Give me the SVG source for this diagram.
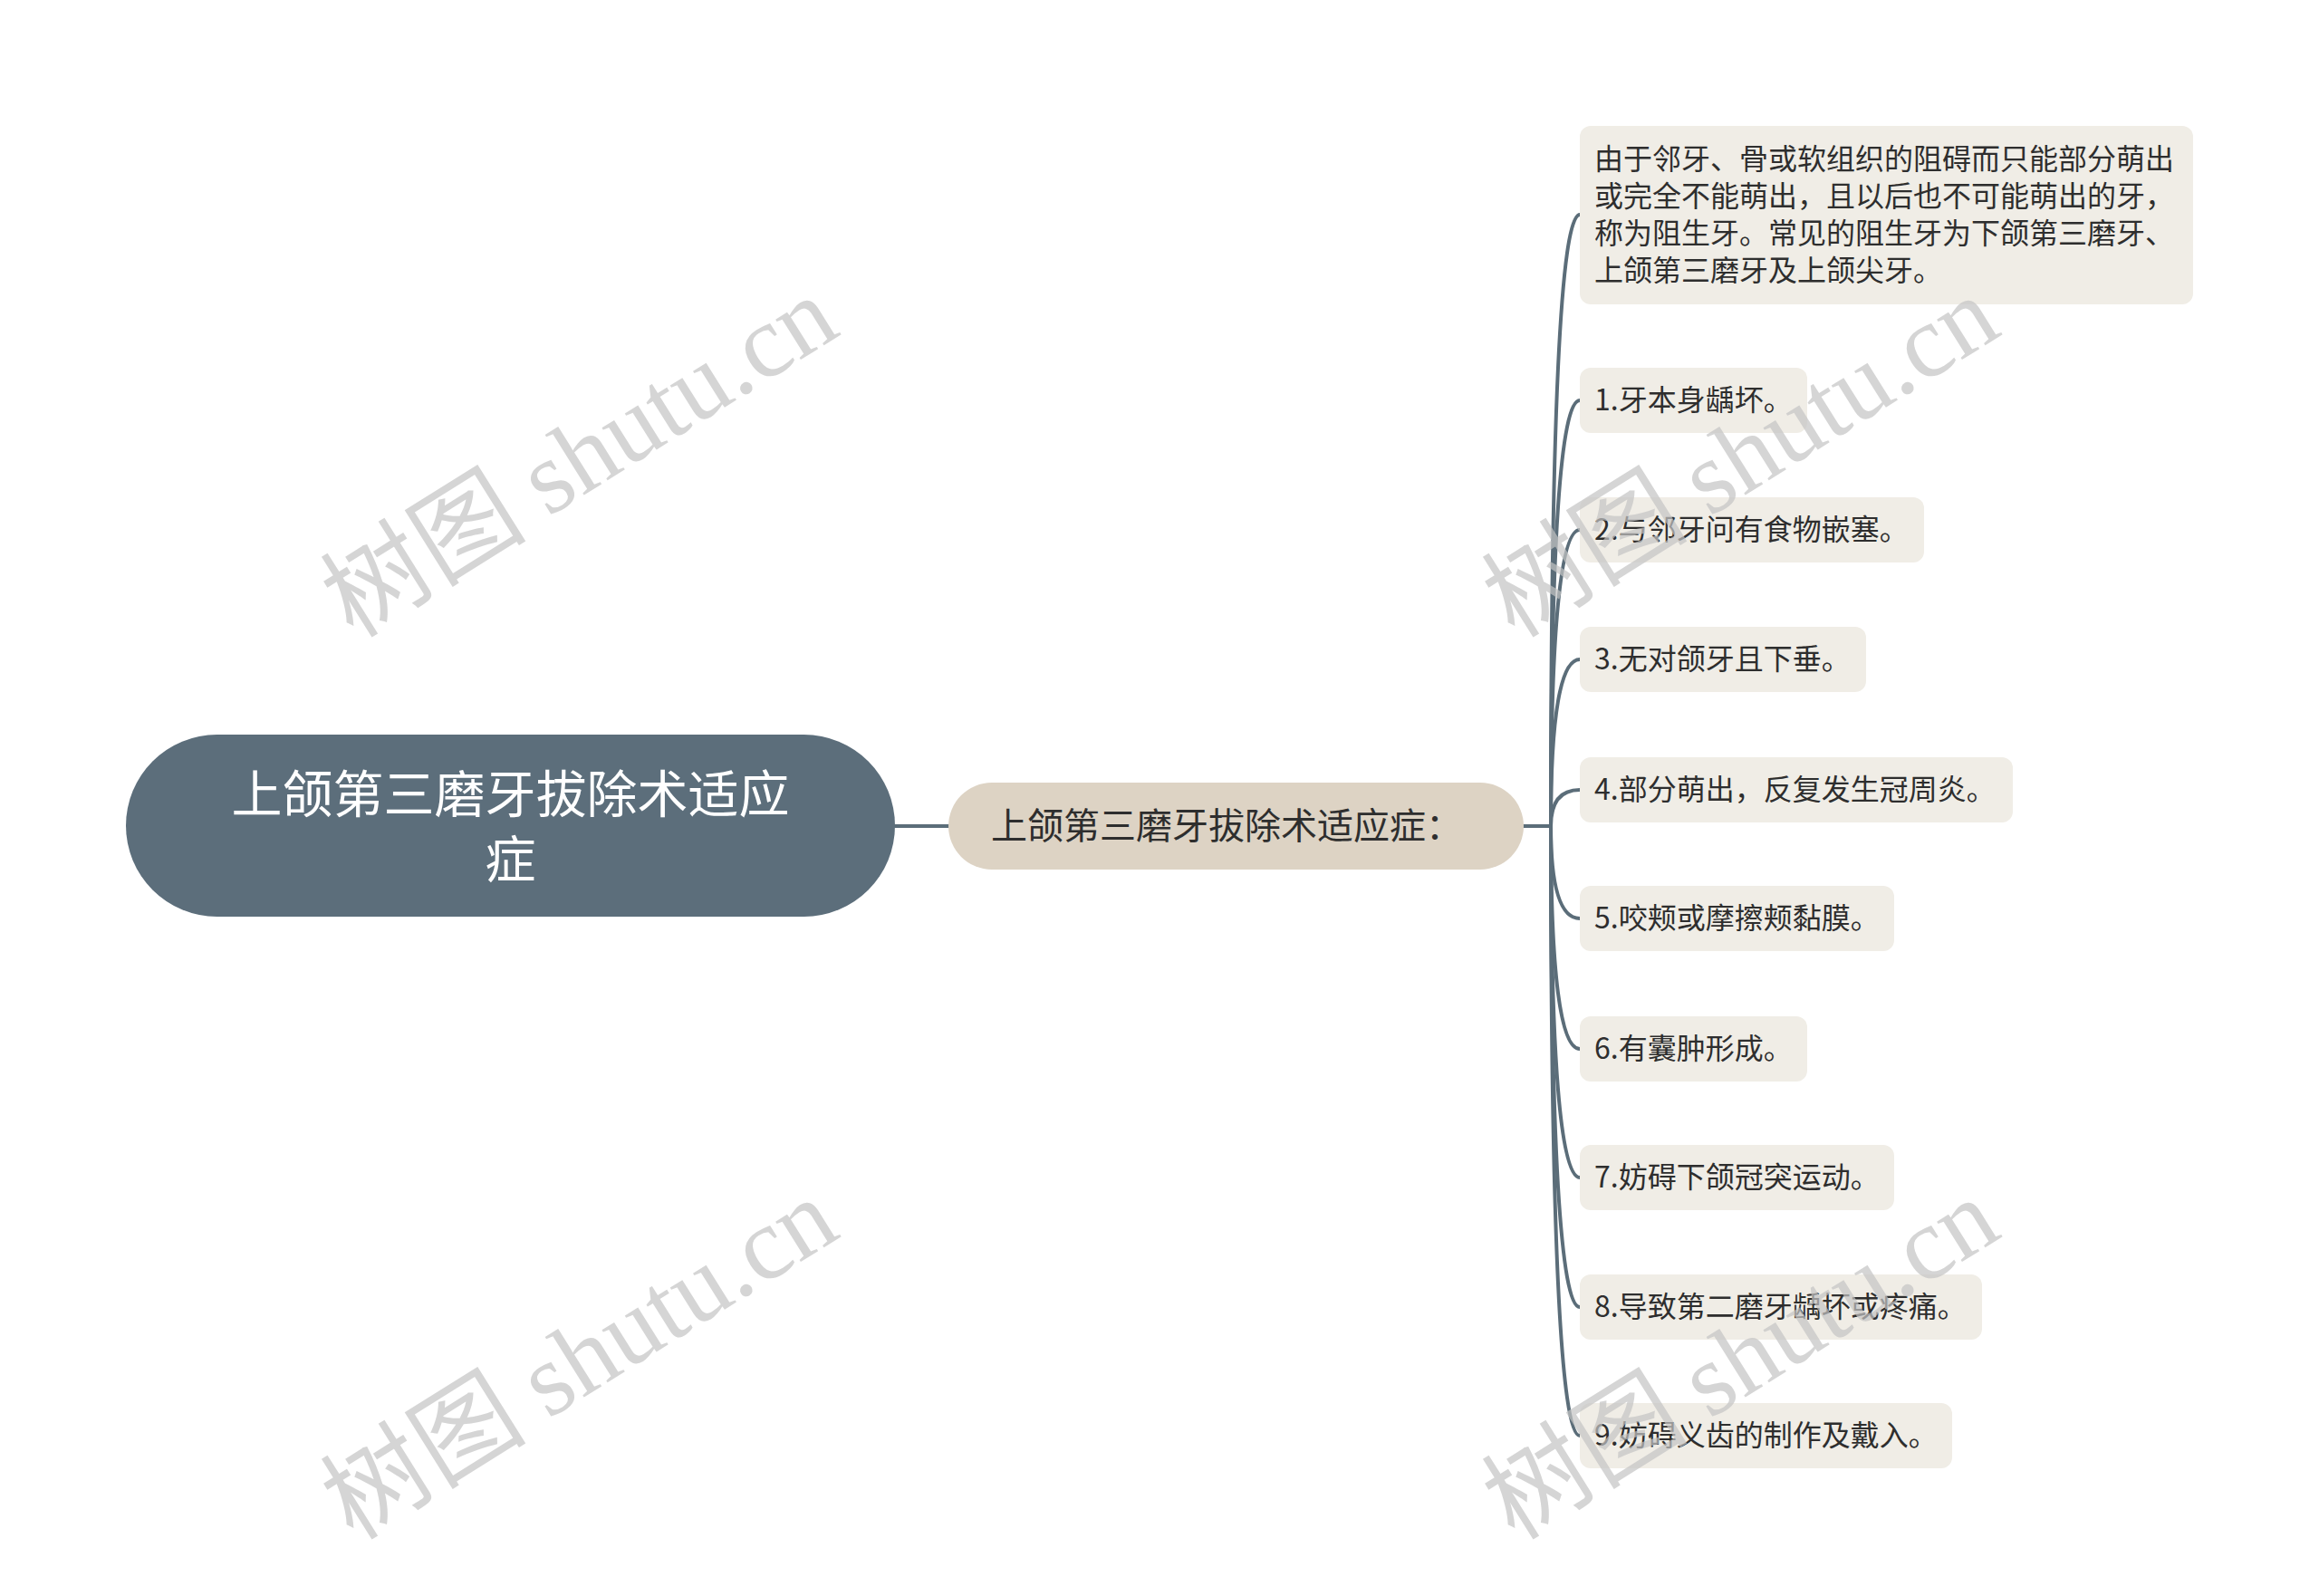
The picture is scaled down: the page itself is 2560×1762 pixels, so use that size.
<svg xmlns="http://www.w3.org/2000/svg" width="2560" height="1762" viewBox="0 0 2560 1762">
<style>
.cn{font-family:"Noto Sans CJK SC","Noto Sans",sans-serif;}
.root-box{fill:#5c6e7b;}
.root-txt{fill:#ffffff;font-size:56px;}
.mid-box{fill:#ddd3c4;}
.mid-txt{fill:#2e2e2e;font-size:40px;}
.leaf-box{fill:#f0ede6;}
.leaf-txt{fill:#2e2e2e;font-size:32px;}
.link{fill:none;stroke:#5b6d79;stroke-width:4;stroke-linecap:round;}
.wm{fill:#c4c4c4;opacity:0.7;font-size:114px;}
</style>
<rect width="2560" height="1762" fill="#ffffff"/>
<g id="connectors">
<path class="link" d="M988 912 L1047 912"/>
<path class="link" d="M1682 912 L1712 912"/>
<path class="link" d="M1712 912 Q1712 237 1744 237"/>
<path class="link" d="M1712 912 Q1712 442 1744 442"/>
<path class="link" d="M1712 912 Q1712 585 1744 585"/>
<path class="link" d="M1712 912 Q1712 728 1744 728"/>
<path class="link" d="M1712 912 Q1712 872 1744 872"/>
<path class="link" d="M1712 912 Q1712 1014 1744 1014"/>
<path class="link" d="M1712 912 Q1712 1158 1744 1158"/>
<path class="link" d="M1712 912 Q1712 1300 1744 1300"/>
<path class="link" d="M1712 912 Q1712 1443 1744 1443"/>
<path class="link" d="M1712 912 Q1712 1585 1744 1585"/>
</g>
<g id="root">
<rect class="root-box" x="139" y="811" width="849" height="201" rx="100.5"/>
<text class="cn root-txt" text-anchor="middle"><tspan x="563.5" y="897">上颌第三磨牙拔除术适应</tspan><tspan x="563.5" y="969">症</tspan></text>
</g>
<g id="mid">
<rect class="mid-box" x="1047" y="864" width="635" height="96" rx="48"/>
<text class="cn mid-txt" x="1094" y="926">上颌第三磨牙拔除术适应症：</text>
</g>
<g id="leaf0">
<rect class="leaf-box" x="1744" y="139" width="677" height="197" rx="12"/>
<text class="cn leaf-txt"><tspan x="1760" y="187">由于邻牙、骨或软组织的阻碍而只能部分萌出</tspan><tspan x="1760" y="228">或完全不能萌出，且以后也不可能萌出的牙，</tspan><tspan x="1760" y="269">称为阻生牙。常见的阻生牙为下颌第三磨牙、</tspan><tspan x="1760" y="310">上颌第三磨牙及上颌尖牙。</tspan></text>
</g>
<g id="leaf1">
<rect class="leaf-box" x="1744" y="406" width="251" height="72" rx="12"/>
<text class="cn leaf-txt" x="1760" y="453">1.牙本身龋坏。</text>
</g>
<g id="leaf2">
<rect class="leaf-box" x="1744" y="549" width="380" height="72" rx="12"/>
<text class="cn leaf-txt" x="1760" y="596">2.与邻牙问有食物嵌塞。</text>
</g>
<g id="leaf3">
<rect class="leaf-box" x="1744" y="692" width="316" height="72" rx="12"/>
<text class="cn leaf-txt" x="1760" y="739">3.无对颌牙且下垂。</text>
</g>
<g id="leaf4">
<rect class="leaf-box" x="1744" y="836" width="478" height="72" rx="12"/>
<text class="cn leaf-txt" x="1760" y="883">4.部分萌出，反复发生冠周炎。</text>
</g>
<g id="leaf5">
<rect class="leaf-box" x="1744" y="978" width="347" height="72" rx="12"/>
<text class="cn leaf-txt" x="1760" y="1025">5.咬颊或摩擦颊黏膜。</text>
</g>
<g id="leaf6">
<rect class="leaf-box" x="1744" y="1122" width="251" height="72" rx="12"/>
<text class="cn leaf-txt" x="1760" y="1169">6.有囊肿形成。</text>
</g>
<g id="leaf7">
<rect class="leaf-box" x="1744" y="1264" width="347" height="72" rx="12"/>
<text class="cn leaf-txt" x="1760" y="1311">7.妨碍下颌冠突运动。</text>
</g>
<g id="leaf8">
<rect class="leaf-box" x="1744" y="1407" width="444" height="72" rx="12"/>
<text class="cn leaf-txt" x="1760" y="1454">8.导致第二磨牙龋坏或疼痛。</text>
</g>
<g id="leaf9">
<rect class="leaf-box" x="1744" y="1549" width="411" height="72" rx="12"/>
<text class="cn leaf-txt" x="1760" y="1596">9.妨碍义齿的制作及戴入。</text>
</g>
<g id="watermarks">
<text class="wm" transform="translate(660,537) rotate(-32)" text-anchor="middle"><tspan font-family="Noto Sans CJK SC,sans-serif">树图 </tspan><tspan font-family="Liberation Serif,serif">shutu.cn</tspan></text>
<text class="wm" transform="translate(1942,537) rotate(-32)" text-anchor="middle"><tspan font-family="Noto Sans CJK SC,sans-serif">树图 </tspan><tspan font-family="Liberation Serif,serif">shutu.cn</tspan></text>
<text class="wm" transform="translate(660,1533) rotate(-32)" text-anchor="middle"><tspan font-family="Noto Sans CJK SC,sans-serif">树图 </tspan><tspan font-family="Liberation Serif,serif">shutu.cn</tspan></text>
<text class="wm" transform="translate(1942,1533) rotate(-32)" text-anchor="middle"><tspan font-family="Noto Sans CJK SC,sans-serif">树图 </tspan><tspan font-family="Liberation Serif,serif">shutu.cn</tspan></text>
</g>
</svg>
